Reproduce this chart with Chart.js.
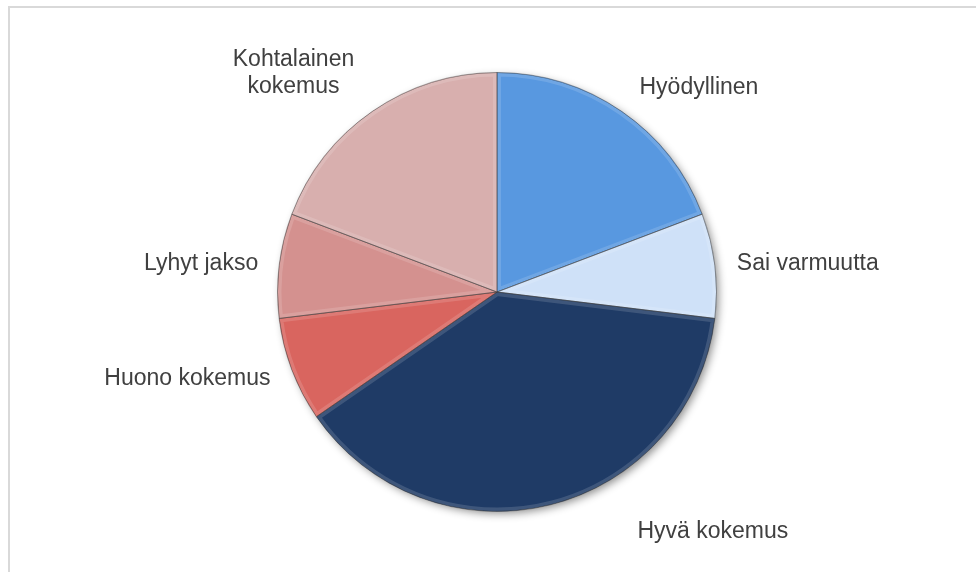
<!DOCTYPE html>
<html>
<head>
<meta charset="utf-8">
<script src="https://cdn.jsdelivr.net/npm/chart.js@4"></script>
<style>
  html, body { margin: 0; padding: 0; background: #fff; }
  #wrap { position: relative; width: 976px; height: 572px; overflow: hidden; }
  #frame { position: absolute; left: 8px; top: 6px; width: 1000px; height: 600px; border: 2px solid #D9D9D9; box-sizing: border-box; }
  canvas { position: absolute; left: 0; top: 0; }
</style>
</head>
<body>
<div id="wrap">
  <div id="frame"></div>
  <canvas id="pieChart" width="976" height="572"></canvas>
</div>
<script>
// Slices, clockwise from 12 o'clock
const labels = ['Hyödyllinen', 'Sai varmuutta', 'Hyvä kokemus', 'Huono kokemus', 'Lyhyt jakso', 'Kohtalainen kokemus'];
const values = [5, 2, 10, 2, 2, 5];
const colors = ['#5898E0', '#CFE1F8', '#1F3B66', '#D9655F', '#D4918F', '#D8AFAE'];

// label text lines (Kohtalainen wraps onto two lines)
const labelLines = [['Hyödyllinen'], ['Sai varmuutta'], ['Hyvä kokemus'], ['Huono kokemus'], ['Lyhyt jakso'], ['Kohtalainen', 'kokemus']];

// soft drop shadow behind the whole pie
const pieShadow = {
    id: 'pieShadow',
    beforeDatasetsDraw(chart) {
        const arc = chart.getDatasetMeta(0).data[0];
        if (!arc) return;
        const ctx = chart.ctx;
        ctx.save();
        ctx.shadowColor = 'rgba(0,0,0,0.45)';
        ctx.shadowBlur = 8;
        ctx.shadowOffsetX = 3;
        ctx.shadowOffsetY = 3;
        ctx.fillStyle = '#888';
        ctx.beginPath();
        ctx.arc(arc.x, arc.y, arc.outerRadius - 1, 0, Math.PI * 2);
        ctx.fill();
        ctx.restore();
    }
};

// faint bevel: light band just inside each slice edge
const sliceBevel = {
    id: 'sliceBevel',
    afterDatasetsDraw(chart) {
        const ctx = chart.ctx;
        chart.getDatasetMeta(0).data.forEach(arc => {
            ctx.save();
            ctx.beginPath();
            ctx.moveTo(arc.x, arc.y);
            ctx.arc(arc.x, arc.y, arc.outerRadius, arc.startAngle, arc.endAngle);
            ctx.closePath();
            ctx.clip();
            ctx.lineWidth = 8;
            ctx.lineJoin = 'round';
            ctx.strokeStyle = 'rgba(255,255,255,0.14)';
            ctx.stroke();
            ctx.lineWidth = 1;
            ctx.strokeStyle = 'rgba(30,30,30,0.35)';
            ctx.stroke();
            ctx.restore();
        });
    }
};

// outside labels placed from each arc's own geometry
const outsideLabels = {
    id: 'outsideLabels',
    afterDatasetsDraw(chart) {
        const ctx = chart.ctx;
        const meta = chart.getDatasetMeta(0);
        ctx.save();
        ctx.font = '23px "Liberation Sans", Arial, sans-serif';
        ctx.fillStyle = '#404040';
        const lh = 27;
        meta.data.forEach((arc, i) => {
            const mid = (arc.startAngle + arc.endAngle) / 2;
            const r = arc.outerRadius + 12;
            let x = arc.x + Math.cos(mid) * r;
            let y = arc.y + Math.sin(mid) * r;
            const lines = labelLines[i];
            const right = x >= arc.x;
            ctx.textAlign = right ? 'left' : 'right';
            ctx.textBaseline = 'middle';
            const nearTop = y < arc.y - arc.outerRadius * 0.6;
            const nearBottom = y > arc.y + arc.outerRadius * 0.6;
            if (nearTop && right) { x += 11; y -= 14; }
            else if (nearTop && !right) { ctx.textAlign = 'center'; x -= 72; y -= 28; }
            else if (nearBottom) { x += 85; y += 15; }
            else if (right) { x += 10; }
            else if (y > arc.y) { x -= 10; y += 5; }
            else { x -= 9; }
            const y0 = y - (lines.length - 1) * lh / 2;
            lines.forEach((t, k) => ctx.fillText(t, x, y0 + k * lh));
        });
        ctx.restore();
    }
};

new Chart(document.getElementById('pieChart').getContext('2d'), {
    type: 'pie',
    data: {
        labels: labels,
        datasets: [{
            data: values,
            backgroundColor: colors,
            borderColor: 'rgba(40,40,40,0.35)',
            borderWidth: 1
        }]
    },
    options: {
        responsive: false,
        animation: false,
        layout: { padding: { left: 277, right: 259, top: 72, bottom: 60 } },
        plugins: {
            legend: { display: false },
            tooltip: { enabled: false }
        }
    },
    plugins: [pieShadow, sliceBevel, outsideLabels]
});
</script>
</body>
</html>
